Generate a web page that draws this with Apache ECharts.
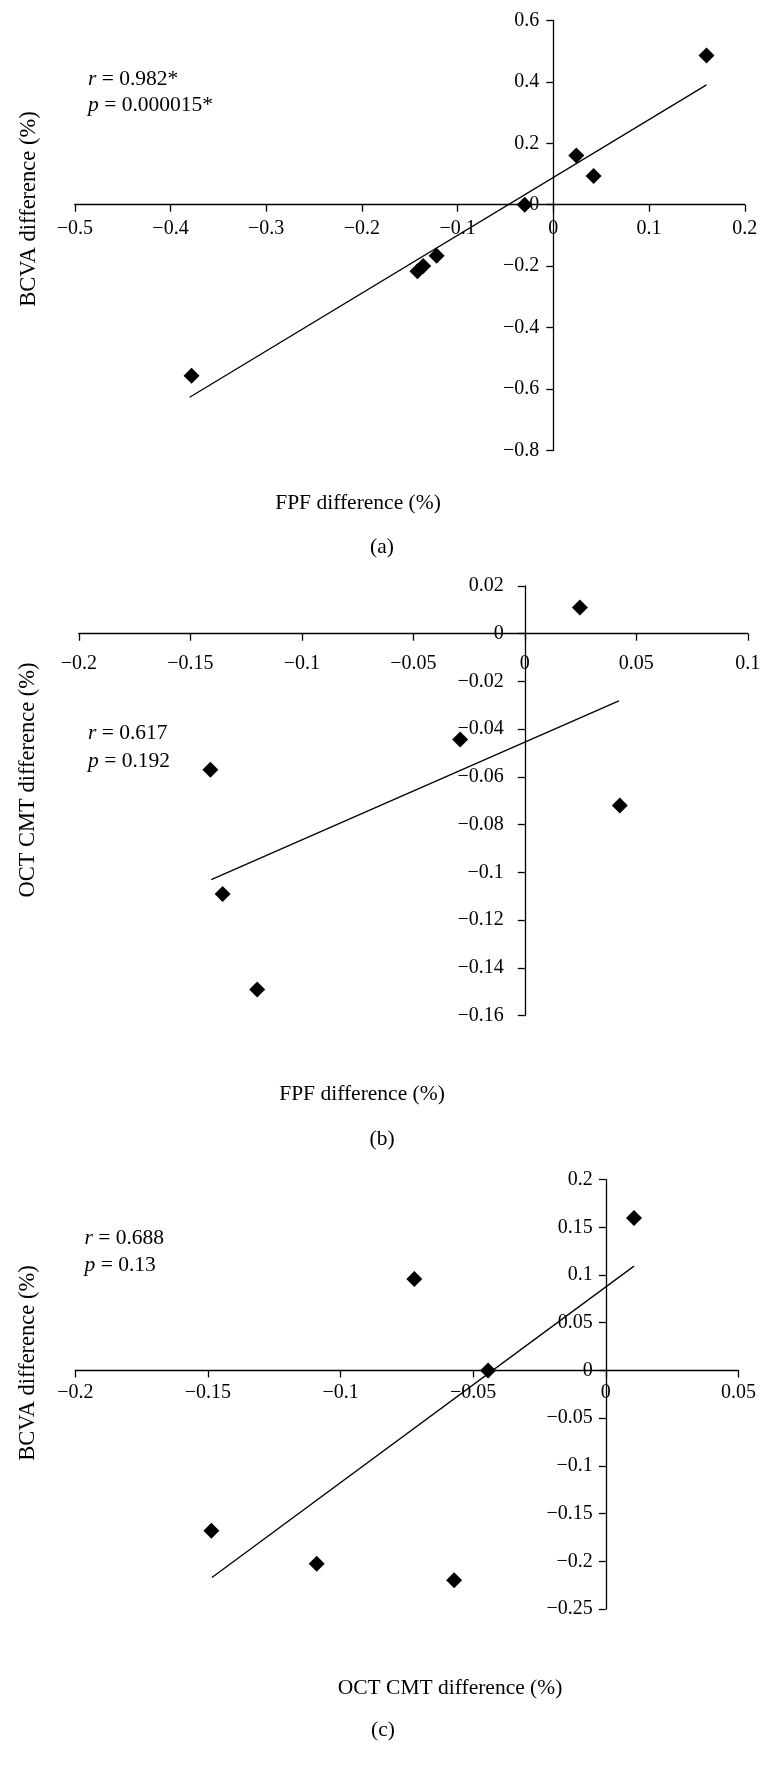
<!DOCTYPE html>
<html><head><meta charset="utf-8">
<script src="https://cdn.jsdelivr.net/npm/echarts@6/dist/echarts.min.js"></script>
<style>html,body{margin:0;padding:0;background:#fff}#c{width:772px;height:1774px}</style>
</head><body><div id="c"></div>
<script>
// ---- Data ----
// Panel (a): FPF difference vs BCVA difference
const fpfA  = [-0.378, -0.142, -0.136, -0.122, -0.030, 0.024, 0.042, 0.160];
const bcvaA = [-0.557, -0.217, -0.200, -0.166, 0.000, 0.160, 0.093, 0.486];
const trendA = [[-0.380, -0.627], [0.160, 0.390]];
// Panel (b): FPF difference vs OCT CMT difference
const fpfB = [-0.141, -0.1355, -0.120, -0.029, 0.0247, 0.0426];
const cmtB = [-0.057, -0.109, -0.149, -0.0443, 0.011, -0.072];
const trendB = [[-0.1406, -0.103], [0.0422, -0.0281]];
// Panel (c): OCT CMT difference vs BCVA difference
const cmtC  = [-0.1487, -0.109, -0.0572, -0.0722, -0.0444, 0.0106];
const bcvaC = [-0.168, -0.2025, -0.220, 0.0958, 0.000, 0.1597];
const trendC = [[-0.1485, -0.217], [0.0106, 0.1093]];

// Tick values
const xTicksA = [-0.5, -0.4, -0.3, -0.2, -0.1, 0, 0.1, 0.2];
const yTicksA = [-0.8, -0.6, -0.4, -0.2, 0, 0.2, 0.4, 0.6];
const xTicksB = [-0.2, -0.15, -0.1, -0.05, 0, 0.05, 0.1];
const yTicksB = [-0.16, -0.14, -0.12, -0.1, -0.08, -0.06, -0.04, -0.02, 0, 0.02];
const xTicksC = [-0.2, -0.15, -0.1, -0.05, 0, 0.05];
const yTicksC = [-0.25, -0.2, -0.15, -0.1, -0.05, 0, 0.05, 0.1, 0.15, 0.2];

// Text
const xTitles = ['FPF difference (%)', 'FPF difference (%)', 'OCT CMT difference (%)'];
const yTitles = ['BCVA difference (%)', 'OCT CMT difference (%)', 'BCVA difference (%)'];
const rValues = ['0.982*', '0.617', '0.688'];
const pValues = ['0.000015*', '0.192', '0.13'];
const panelLabels = ['(a)', '(b)', '(c)'];

// ---- Layout ----
const FONT = '"Liberation Serif", "Times New Roman", serif';
const TICK_FS = 20, XT_FS = 21.5, YT_FS = 22.5, ST_FS = 21.5;
const layouts = [
  {grid:{left:74.8, top:20.4, width:670, height:430}, xm:14, ym:14,
   yt:{x:29, y:209}, xt:{x:358, y:503}, r:{x:88, y:79.5}, p:{x:88, y:105.5}, lab:{x:382, y:547}},
  {grid:{left:78.8, top:586, width:669, height:429.7}, xm:20.5, ym:21,
   yt:{x:28, y:780}, xt:{x:362, y:1094}, r:{x:88, y:733.5}, p:{x:88, y:761}, lab:{x:382, y:1139}},
  {grid:{left:75.3, top:1179.6, width:663.2, height:429.4}, xm:12, ym:13,
   yt:{x:28, y:1363}, xt:{x:450, y:1688}, r:{x:84.5, y:1238}, p:{x:84.5, y:1265.5}, lab:{x:383, y:1730}}
];

function fmt(v) {
  const r = Math.round(v * 1000) / 1000;
  if (r === 0) return '0';
  return (r < 0 ? '\u2212' : '') + String(Math.abs(r));
}

const panels = [
  {xs: fpfA, ys: bcvaA, trend: trendA, xt: xTicksA, yt: yTicksA},
  {xs: fpfB, ys: cmtB, trend: trendB, xt: xTicksB, yt: yTicksB},
  {xs: cmtC, ys: bcvaC, trend: trendC, xt: xTicksC, yt: yTicksC}
];

const axisLineStyle = {color:'#000', width:1.3};
const grid = [], xAxis = [], yAxis = [], series = [], graphic = [];

panels.forEach((pn, i) => {
  const L = layouts[i];
  const xmin = pn.xt[0], xmax = pn.xt[pn.xt.length-1];
  const ymin = pn.yt[0], ymax = pn.yt[pn.yt.length-1];
  // axes cross at zero: shift each axis from the grid edge to the zero position of the other axis
  const xOff = -((0 - ymin) / (ymax - ymin)) * L.grid.height;
  const yOff = -((0 - xmin) / (xmax - xmin)) * L.grid.width;
  grid.push(Object.assign({containLabel:false}, L.grid));
  xAxis.push({
    type:'value', gridIndex:i, position:'bottom', offset:xOff,
    min: xmin, max: xmax,
    interval: Math.round((pn.xt[1]-pn.xt[0])*1000)/1000,
    axisLine:{show:true, onZero:false, lineStyle:axisLineStyle},
    axisTick:{show:true, length:7, lineStyle:axisLineStyle},
    axisLabel:{margin:L.xm, fontFamily:FONT, fontSize:TICK_FS, color:'#000', formatter:fmt, hideOverlap:false},
    splitLine:{show:false}
  });
  yAxis.push({
    type:'value', gridIndex:i, position:'left', offset:yOff,
    min: ymin, max: ymax,
    interval: Math.round((pn.yt[1]-pn.yt[0])*1000)/1000,
    axisLine:{show:true, onZero:false, lineStyle:axisLineStyle},
    axisTick:{show:true, length:7, lineStyle:axisLineStyle},
    axisLabel:{margin:L.ym, fontFamily:FONT, fontSize:TICK_FS, color:'#000', formatter:fmt, hideOverlap:false},
    splitLine:{show:false}
  });
  series.push({
    type:'line', xAxisIndex:i, yAxisIndex:i,
    data: pn.trend, symbol:'none', silent:true,
    lineStyle:{color:'#000', width:1.3}, z:2
  });
  series.push({
    type:'scatter', xAxisIndex:i, yAxisIndex:i,
    data: pn.xs.map((x, k) => [x, pn.ys[k]]),
    symbol:'diamond', symbolSize:16,
    itemStyle:{color:'#000', opacity:1}, z:3
  });
  const txt = (s, x, y, fs, extra) => Object.assign({
    type:'text', x:x, y:y,
    style:Object.assign({text:s, fill:'#000', fontFamily:FONT, fontSize:fs,
      align:'center', verticalAlign:'middle'}, extra || {})
  });
  graphic.push(Object.assign(txt(yTitles[i], L.yt.x, L.yt.y, YT_FS), {rotation: Math.PI/2}));
  graphic.push(txt(xTitles[i], L.xt.x, L.xt.y, XT_FS));
  graphic.push(txt(panelLabels[i], L.lab.x, L.lab.y, XT_FS));
  const rich = {i:{fontStyle:'italic', fontFamily:FONT, fontSize:ST_FS, fill:'#000'},
                n:{fontFamily:FONT, fontSize:ST_FS, fill:'#000'}};
  graphic.push(txt('{i|r}{n| = ' + rValues[i] + '}', L.r.x, L.r.y, ST_FS, {align:'left', rich:rich}));
  graphic.push(txt('{i|p}{n| = ' + pValues[i] + '}', L.p.x, L.p.y, ST_FS, {align:'left', rich:rich}));
});

const chart = echarts.init(document.getElementById('c'), null, {renderer:'canvas'});
chart.setOption({
  backgroundColor:'#fff',
  animation:false,
  grid, xAxis, yAxis, series, graphic
});
</script></body></html>
